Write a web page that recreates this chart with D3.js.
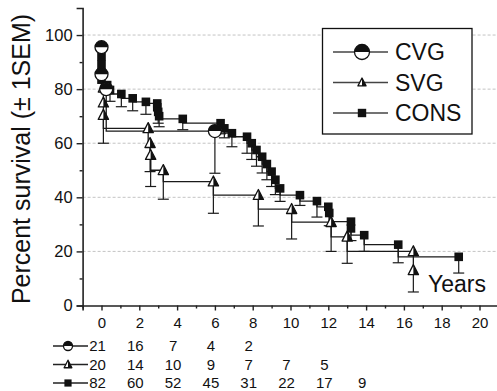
<!DOCTYPE html>
<html><head><meta charset="utf-8">
<script src="https://cdn.jsdelivr.net/npm/d3@7"></script>
<style>
body{margin:0;background:#fff}
svg{display:block}
text{font-family:"Liberation Sans",Arial,Helvetica,sans-serif;fill:#111}
</style>
</head><body><svg id="c" width="497" height="391"></svg>
<script>
// ---- data ----
const seriesNames = ["CVG", "SVG", "CONS"];
const cvgT  = [0, 0, 0.25, 6.0];
const cvgV  = [95.5, 85.5, 80, 64.5];
const cvgLo = [null, null, null, 48.9];

const svgT  = [0.1, 0.1, 0.1, 2.47, 2.57, 2.6, 3.27, 5.92, 8.3, 10.06, 12.15, 13.0, 16.5, 16.5];
const svgV  = [80.5, 75, 70.4, 65.5, 60, 55.6, 50, 45.8, 40.8, 35.6, 30.8, 25.4, 20, 13];
const svgLo = [null, null, 60, null, 49.5, 44, 39.3, 34.1, 29.4, 24.6, 20, 15.6, null, 5];

const consT  = [0, 0, 0, 0, 0.3, 0.45, 1.05, 1.65, 2.35, 2.95, 2.95, 3.0, 3.05, 4.3, 6.3, 6.5, 6.9,
                7.7, 7.95, 8.2, 8.5, 8.75, 9.0, 9.2, 9.45, 10.5, 11.4, 12.0, 12.05, 13.2, 13.2, 13.9, 15.7, 18.9];
const consV  = [92, 89, 86, 83.5, 81.5, 79.7, 78.2, 76.6, 75.3, 74.7, 73.3, 71.6, 70, 69, 67.4, 65.5, 63.7,
                62.4, 60, 57.5, 55, 52.3, 49.5, 46.5, 43.3, 40.8, 38.6, 36.5, 34.2, 31, 28.5, 26, 22.5, 18];
const consLo = [null, null, null, null, null, 75.5, 73.5, 72, 70.7, null, null, 67.4, 66.1, 65, 63.5, 62, 58.7,
                56.3, 54, 51.5, 49, 46.5, 44, 41, 38.5, 37, 32.7, null, 29.5, null, 24, 20, 15.8, 12];

const xTickLabels = [0, 2, 4, 6, 8, 10, 12, 14, 16, 18, 20];
const yTickLabels = [0, 20, 40, 60, 80, 100];
const atRiskYears = [0, 2, 4, 6, 8, 10, 12, 14];
const atRiskCVG  = [21, 16, 7, 4, 2];
const atRiskSVG  = [20, 14, 10, 9, 7, 7, 5];
const atRiskCONS = [82, 60, 52, 45, 31, 22, 17, 9];

// ---- drawing ----
const svg = d3.select("#c");
const x = d3.scaleLinear().domain([-1, 21]).range([82.6, 498.4]);
const y = d3.scaleLinear().domain([0, 110]).range([305.5, 8]);

// grid
svg.append("g").selectAll("line").data(yTickLabels.filter(d => d > 0)).join("line")
  .attr("x1", x(-1)).attr("x2", 497).attr("y1", d => y(d)).attr("y2", d => y(d))
  .attr("stroke", "#bdbdbd").attr("stroke-width", 0.9).attr("stroke-dasharray", "3,2");

// axes
const yMinor = d3.range(10, 110, 20);
const xMinor = d3.range(-1, 22, 2);
const gy = svg.append("g").attr("transform", `translate(${x(-1)},0)`);
gy.call(d3.axisLeft(y).tickValues(yTickLabels).tickSize(6).tickPadding(4).tickFormat(d3.format("d")));
gy.append("g").call(d3.axisLeft(y).tickValues(yMinor).tickSize(3).tickFormat(""))
  .select(".domain").remove();
gy.selectAll("text").attr("font-size", 16.5).attr("font-family", "Liberation Sans, Arial, sans-serif").attr("fill", "#111");
gy.selectAll(".domain").attr("stroke", "#222").attr("stroke-width", 1.6);
gy.selectAll(".tick line").attr("stroke", "#222").attr("stroke-width", 1.4);

const gx = svg.append("g").attr("transform", `translate(0,${y(0)})`);
gx.call(d3.axisBottom(x).tickValues(xTickLabels).tickSize(5).tickPadding(7).tickFormat(d3.format("d")));
gx.append("g").call(d3.axisBottom(x).tickValues(xMinor).tickSize(3).tickFormat(""))
  .select(".domain").remove();
gx.selectAll("text").attr("font-size", 15).attr("font-family", "Liberation Sans, Arial, sans-serif").attr("fill", "#111");
gx.selectAll(".domain").attr("stroke", "#222").attr("stroke-width", 1.6);
gx.selectAll(".tick line").attr("stroke", "#222").attr("stroke-width", 1.4);

// marker drawers
function drawMarker(g, type, cx, cy, s) {
  const m = g.append("g").attr("transform", `translate(${cx},${cy})`);
  if (type === "CVG") {
    const r = s;
    m.append("circle").attr("r", r).attr("fill", "#fff").attr("stroke", "#111").attr("stroke-width", 1.3);
    m.append("path").attr("d", `M${-r},0 A${r},${r} 0 0 1 ${r},0 Z`).attr("fill", "#111");
  } else if (type === "SVG") {
    const h = s;
    m.append("path").attr("d", `M0,${-h} L${h * 0.9},${h * 0.75} L${-h * 0.9},${h * 0.75} Z`)
      .attr("fill", "#fff").attr("stroke", "#111").attr("stroke-width", 1.3).attr("stroke-linejoin", "round");
    m.append("path").attr("d", `M0,${-h} L${h * 0.9},${h * 0.75} L0,${h * 0.75} Z`).attr("fill", "#111");
  } else {
    m.append("rect").attr("x", -s).attr("y", -s).attr("width", 2 * s).attr("height", 2 * s).attr("fill", "#111");
  }
}

const series = [
  {name: "CONS", t: consT, v: consV, lo: consLo, size: 4.3},
  {name: "SVG",  t: svgT,  v: svgV,  lo: svgLo,  size: 5.7},
  {name: "CVG",  t: cvgT,  v: cvgV,  lo: cvgLo,  size: 6.5}
];

const line = d3.line().x(d => x(d[0])).y(d => y(d[1])).curve(d3.curveStepBefore);
series.forEach(s => {
  const pts = s.t.map((t, i) => [t, s.v[i]]);
  svg.append("path").attr("d", line(pts)).attr("fill", "none")
    .attr("stroke", "#1a1a1a").attr("stroke-width", 1.3);
});
// error bars
series.forEach(s => {
  const g = svg.append("g").attr("stroke", "#1a1a1a").attr("stroke-width", 1.2);
  s.t.forEach((t, i) => {
    if (s.lo[i] == null) return;
    g.append("line").attr("x1", x(t)).attr("x2", x(t)).attr("y1", y(s.v[i])).attr("y2", y(s.lo[i]));
    g.append("line").attr("x1", x(t) - 5.5).attr("x2", x(t) + 5.5).attr("y1", y(s.lo[i])).attr("y2", y(s.lo[i]));
  });
});
// markers
series.forEach(s => {
  const g = svg.append("g");
  s.t.forEach((t, i) => drawMarker(g, s.name, x(t), y(s.v[i]), s.size));
});

// legend
const lg = svg.append("g");
lg.append("rect").attr("x", 322.5).attr("y", 28.5).attr("width", 149.5).attr("height", 105.5)
  .attr("fill", "#fff").attr("stroke", "#111").attr("stroke-width", 1.3);
const legendSizes = {CVG: 7.5, SVG: 4.5, CONS: 4.2};
seriesNames.forEach((n, i) => {
  const ly = 52 + i * 30.5;
  lg.append("line").attr("x1", 333).attr("x2", 388).attr("y1", ly).attr("y2", ly)
    .attr("stroke", "#444").attr("stroke-width", 1.3);
  drawMarker(lg, n, 362, ly, legendSizes[n]);
  lg.append("text").attr("x", 395).attr("y", ly).attr("dy", "0.36em").attr("font-size", 23).text(n);
});

// axis label
svg.append("text").attr("transform", "translate(30,159) rotate(-90)")
  .attr("text-anchor", "middle").attr("font-size", 25).text("Percent survival (\u00b1 1SEM)");
svg.append("text").attr("x", 428).attr("y", 292).attr("font-size", 23).text("Years");

// at-risk table
const rows = [
  {name: "CVG", vals: atRiskCVG, size: 4.5},
  {name: "SVG", vals: atRiskSVG, size: 4.3},
  {name: "CONS", vals: atRiskCONS, size: 3.6}
];
const rowY = [346, 364.5, 383];
rows.forEach((r, i) => {
  const g = svg.append("g");
  g.append("line").attr("x1", 53).attr("x2", 88).attr("y1", rowY[i]).attr("y2", rowY[i])
    .attr("stroke", "#222").attr("stroke-width", 1.3);
  drawMarker(g, r.name, 68, rowY[i], r.size);
  g.selectAll("text").data(r.vals).join("text")
    .attr("x", (d, j) => x(atRiskYears[j]) - 4).attr("y", rowY[i]).attr("dy", "0.36em")
    .attr("text-anchor", "middle").attr("font-size", 15).text(d => d);
});
</script>
</body></html>
